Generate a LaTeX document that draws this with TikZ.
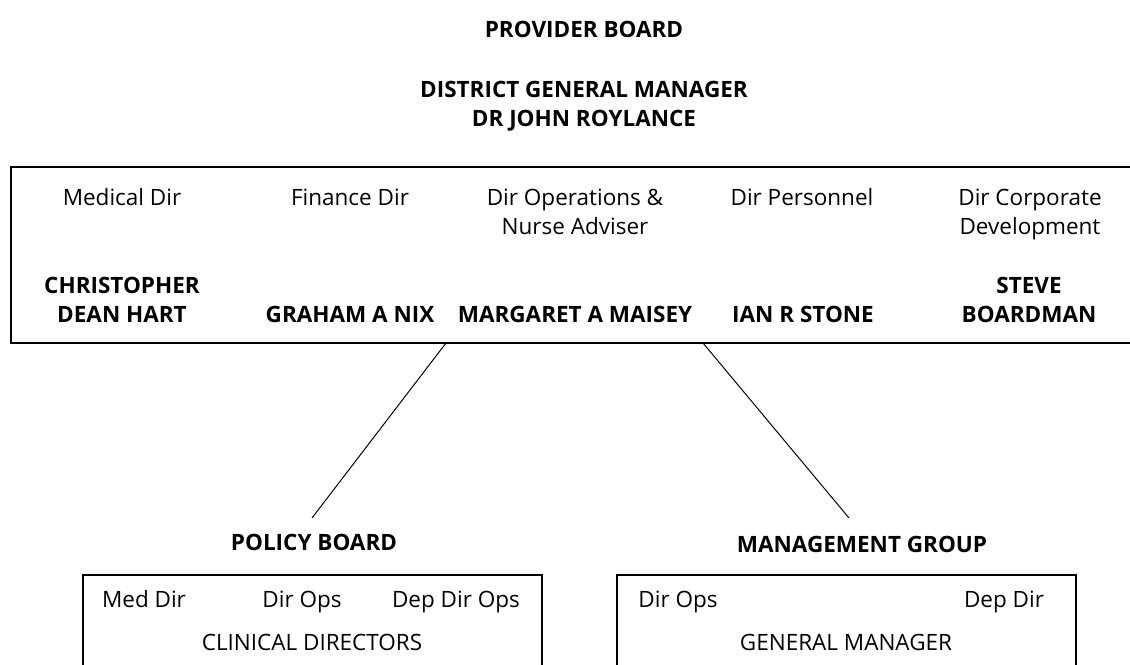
\documentclass[tikz,border=0pt]{standalone}
\usepackage{fontspec}
\setmainfont{Open Sans}
\begin{document}
\begin{tikzpicture}[x=0.025cm,y=-0.025cm,
    txt/.style={anchor=base,align=center,font=\fontsize{16}{20.6}\selectfont},
    bold/.style={txt,font=\fontsize{16}{20.6}\selectfont\bfseries},
    frame/.style={line width=0.9pt},
    link/.style={line width=0.7pt}]
    % Page size (pixels of the original)
    \useasboundingbox (0,0) rectangle (1130,664);

    % Heading (base = last line)
    \node[bold] (provider) at (584,37) {PROVIDER BOARD};
    \node[bold] (dgm) at (584,126) {DISTRICT GENERAL MANAGER\\DR JOHN ROYLANCE};

    % Provider board box (runs off the right edge)
    \draw[frame] (1160,167) -- (11,167) -- (11,343) -- (1160,343);
    \coordinate (boardL) at (446,343);
    \coordinate (boardR) at (703,343);

    % Directors
    \node[txt] (med) at (122,205) {Medical Dir};
    \node[txt] (fin) at (350,205) {Finance Dir};
    \node[txt] (ops) at (575,234) {Dir Operations \&\\Nurse Adviser};
    \node[txt] (pers) at (802,205) {Dir Personnel};
    \node[txt] (corp) at (1030,234) {Dir Corporate\\Development};

    \node[bold] (hart) at (122,322) {CHRISTOPHER\\DEAN HART};
    \node[bold] (nix) at (350,322) {GRAHAM A NIX};
    \node[bold] (maisey) at (575,322) {MARGARET A MAISEY};
    \node[bold] (stone) at (803,322) {IAN R STONE};
    \node[bold] (boardman) at (1029,322) {STEVE\\BOARDMAN};

    % Groups below
    \node[bold] (policy) at (314,550) {POLICY BOARD};
    \node[bold] (mgmt) at (862,552) {MANAGEMENT GROUP};
    \coordinate (policyTop) at (312,518);
    \coordinate (mgmtTop) at (849,518);
    \draw[link] (boardL) -- (policyTop);
    \draw[link] (boardR) -- (mgmtTop);

    % Policy board box
    \draw[frame] (83,700) -- (83,575) -- (542,575) -- (542,700);
    \node[txt] (pmed) at (144,607) {Med Dir};
    \node[txt] (pops) at (302,607) {Dir Ops};
    \node[txt] (pdep) at (456,607) {Dep Dir Ops};
    \node[txt] (clin) at (312,650) {CLINICAL DIRECTORS};

    % Management group box
    \draw[frame] (617,700) -- (617,575) -- (1076,575) -- (1076,700);
    \node[txt] (mops) at (678,607) {Dir Ops};
    \node[txt] (mdep) at (1004,607) {Dep Dir};
    \node[txt] (gm) at (846,650) {GENERAL MANAGER};
\end{tikzpicture}
\end{document}
